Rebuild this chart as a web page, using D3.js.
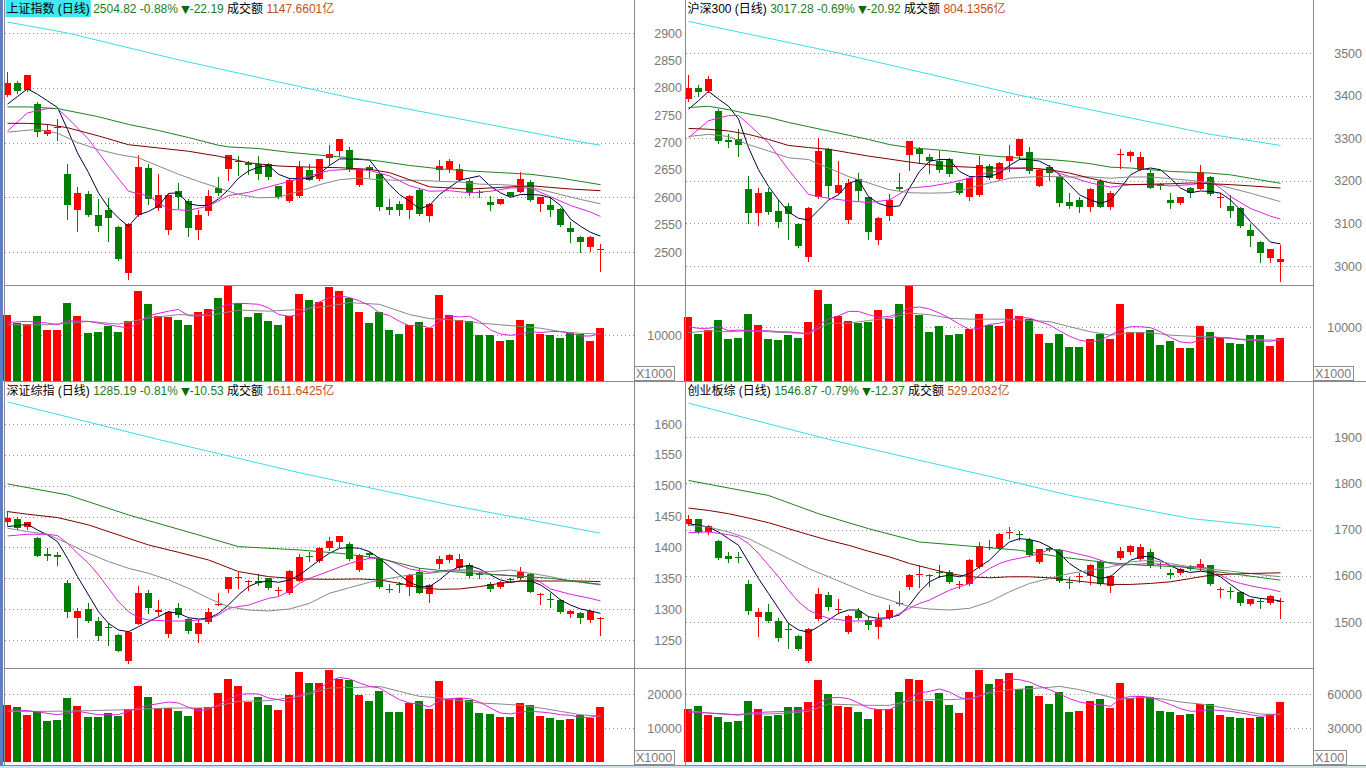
<!DOCTYPE html>
<html>
<head>
<meta charset="utf-8">
<script src="https://d3js.org/d3.v7.min.js"></script>
<title>四大指数 日线</title>
<style type="text/css">
	body { margin: 0; background: #fff; }
	svg { display: block; }
	text { font-family: "Liberation Sans", "Noto Sans CJK SC", sans-serif; }
</style>
</head>
<body>
<div id="chart"></div>
<script>

// ---------- 上证指数 ----------
var shHeader = ["上证指数 (日线)", "2504.82 -0.88%", "▼", "-22.19", "成交额", "1147.6601亿"];
var shOHLC = [[2787,2828,2785,2808],[2808,2812,2790,2794],[2796,2824,2794,2823],[2770,2774,2712,2720],[2715,2733,2714,2723],
	[2726,2743,2704,2728],[2643,2661,2561,2585],[2576,2618,2538,2608],[2606,2611,2565,2568],[2568,2597,2538,2547],
	[2576,2599,2520,2563],[2546,2547,2486,2488],[2462,2553,2451,2551],[2567,2677,2566,2656],[2654,2660,2587,2596],
	[2581,2642,2577,2605],[2541,2606,2533,2605],[2612,2626,2581,2600],[2594,2596,2530,2544],[2541,2577,2524,2568],
	[2574,2614,2568,2603],[2617,2637,2605,2607],[2652,2678,2631,2677],[2667,2675,2641,2665],[2663,2666,2642,2659],
	[2660,2675,2634,2643],[2661,2663,2634,2637],[2620,2621,2599,2600],[2593,2635,2592,2632],[2602,2667,2600,2656],
	[2649,2660,2631,2632],[2634,2670,2632,2669],[2672,2696,2658,2679],[2684,2707,2675,2706],[2686,2692,2648,2651],
	[2622,2652,2621,2651],[2656,2659,2637,2649],[2642,2645,2577,2582],[2582,2596,2570,2577],[2587,2594,2567,2576],
	[2576,2604,2563,2603],[2614,2617,2568,2570],[2565,2590,2556,2588],[2649,2668,2632,2657],[2652,2669,2646,2667],
	[2631,2661,2630,2652],[2629,2634,2605,2607],[2610,2614,2601,2609],[2591,2602,2577,2585],[2588,2597,2587,2596],
	[2609,2610,2602,2603],[2610,2646,2609,2634],[2628,2631,2593,2595],[2588,2601,2574,2600],[2585,2601,2565,2577],
	[2579,2581,2548,2550],[2544,2555,2518,2537],[2527,2529,2500,2518],[2509,2529,2501,2527],[2503,2515,2465,2505]];
var shVol = [14400,12600,12400,14200,11100,11100,16900,14200,10500,10700,11900,10700,13100,19600,16700,14200,13900,13200,12200,15100,
	15600,18000,20700,17000,13900,14700,13000,12200,14200,18900,17600,17100,20400,19600,18100,15000,12700,15000,11000,10200,
	12100,12900,11500,18700,14400,13300,13000,9900,10000,8700,8900,13300,12400,10200,10000,9400,10400,10200,8700,11600];
var shMA5 = [2770,2784,2798,2788,2776,2764,2724,2681,2645,2608,2581,2562,2547,2568,2574,2584,2607,2608,2588,2585,
	2585,2597,2614,2635,2648,2655,2658,2642,2634,2634,2634,2643,2658,2670,2670,2669,2668,2645,2623,2605,
	2593,2579,2585,2605,2618,2631,2635,2639,2620,2608,2600,2605,2605,2604,2599,2585,2560,2547,2536,2529];
var shMA10 = [[0,2721],[2,2754],[4,2762],[5,2762],[6,2745],[8,2706],[10,2657],[12,2611],[14,2602],[16,2578],[18,2576],[20,2584],
	[22,2603],[24,2609],[26,2619],[28,2629],[30,2639],[32,2649],[34,2651],[36,2649],[38,2639],[40,2621],[42,2611],[44,2612],
	[46,2608],[48,2611],[50,2617],[52,2617],[54,2601],[56,2585],[58,2573],[59,2565]];
var shMA20 = [[0,2719],[3,2724],[5,2717],[7,2700],[9,2687],[11,2678],[13,2672],[15,2657],[17,2642],[19,2629],[21,2617],[23,2605],
	[25,2599],[27,2600],[29,2611],[31,2623],[33,2632],[35,2635],[37,2632],[39,2631],[41,2631],[43,2629],[45,2628],[47,2624],
	[49,2623],[51,2621],[53,2614],[55,2605],[57,2596],[59,2588]];
var shMA30 = [[0,2735],[2,2735],[4,2733],[6,2727],[9,2712],[12,2696],[15,2690],[18,2684],[21,2675],[24,2663],[27,2657],[30,2655],
	[33,2654],[36,2651],[38,2645],[40,2632],[42,2619],[44,2617],[46,2615],[48,2617],[50,2619],[52,2621],[54,2618],[56,2615],[59,2612]];
var shMA60 = [[0,2765],[2,2765],[5,2762],[9,2747],[12,2733],[15,2722],[18,2709],[21,2695],[22,2692],[25,2689],[28,2682],[31,2677],
	[34,2672],[37,2666],[40,2658],[43,2652],[46,2648],[49,2645],[52,2642],[55,2635],[59,2623]];
var shMA250 = [[0,2920],[6,2900],[17,2851],[35,2778],[57,2701],[59,2695]];
var shVolMA5 = [[0,12740],[2,12960],[4,12590],[5,12220],[6,13110],[8,12960],[10,12220],[11,11850],[12,11480],[13,12590],[14,14220],
	[16,15180],[17,15560],[18,14220],[19,14070],[20,14810],[21,15930],[22,16670],[23,16890],[24,16810],[25,16670],[26,15930],
	[27,14440],[28,14070],[29,14440],[30,15930],[31,17190],[32,18150],[33,18520],[34,18150],[35,17410],[36,16440],[37,14810],
	[38,14220],[39,12960],[40,12000],[41,12220],[42,11480],[43,12960],[44,14070],[45,13930],[46,14070],[47,12960],[48,11110],
	[49,10220],[50,9930],[51,10220],[52,10740],[53,10520],[54,10740],[55,10740],[56,10370],[57,9780],[58,9780],[59,10370]];
var shVolMA10 = [[0,12220],[4,12220],[8,12960],[11,12370],[14,13700],[17,14440],[20,14220],[23,15410],[26,15180],[29,15560],
	[32,16300],[34,17040],[37,16670],[40,14440],[42,13560],[44,13330],[47,12590],[49,12220],[51,11850],[53,11480],[55,10740],
	[57,10370],[59,10220]];
var shPriceTicks = [2500,2550,2600,2650,2700,2750,2800,2850,2900];
var shPriceGrid = [2500,2600,2700,2800,2900];
var shVolTicks = [10000];

// ---------- 沪深300 ----------
var hsHeader = ["沪深300 (日线)", "3017.28 -0.69%", "▼", "-20.92", "成交额", "804.1356亿"];
var hsOHLC = [[3391,3449,3388,3418],[3418,3425,3398,3408],[3410,3446,3408,3440],[3364,3368,3289,3293],[3295,3309,3280,3292],
	[3297,3321,3258,3284],[3180,3212,3100,3125],[3125,3184,3097,3172],[3173,3183,3122,3127],[3129,3155,3092,3104],
	[3142,3149,3064,3121],[3098,3100,3044,3047],[3021,3139,3011,3137],[3161,3300,3160,3271],[3274,3278,3163,3187],
	[3172,3247,3171,3191],[3109,3204,3101,3195],[3205,3218,3155,3175],[3161,3163,3064,3080],[3062,3114,3052,3112],
	[3117,3168,3109,3155],[3185,3218,3179,3180],[3260,3294,3226,3293],[3274,3280,3242,3264],[3257,3263,3218,3246],
	[3246,3270,3220,3225],[3252,3254,3212,3216],[3195,3198,3169,3171],[3163,3210,3155,3206],[3167,3258,3164,3238],
	[3234,3240,3205,3206],[3204,3244,3202,3242],[3247,3283,3224,3259],[3258,3299,3252,3297],[3268,3280,3218,3222],
	[3188,3228,3187,3226],[3232,3236,3201,3218],[3210,3214,3141,3147],[3150,3171,3135,3142],[3155,3161,3127,3139],
	[3139,3182,3130,3180],[3200,3204,3138,3139],[3139,3175,3134,3172],[3260,3275,3230,3262],[3258,3269,3246,3267],
	[3226,3268,3225,3255],[3218,3226,3183,3184],[3193,3196,3181,3187],[3154,3171,3137,3147],[3149,3163,3146,3161],
	[3183,3185,3163,3171],[3181,3236,3180,3220],[3209,3212,3167,3168],[3161,3171,3138,3163],[3141,3167,3114,3130],
	[3137,3139,3092,3094],[3084,3098,3047,3070],[3056,3058,3009,3030],[3019,3040,3009,3039],[3009,3050,2965,3017]];
var hsVol = [11800,8700,9400,11300,7700,7900,12500,10400,7700,7600,8500,8000,10900,16800,14200,12000,11100,10700,10900,13100,
	11500,14300,17600,12300,9100,10100,8500,8700,9600,12500,10400,10100,13400,12100,11500,8700,7000,8700,6300,6300,
	7700,8700,7700,14300,9100,9100,9400,6600,7400,6100,6100,10200,9100,7900,7000,6900,8500,8500,6500,8000];
var hsMA5 = [3368,3388,3410,3392,3375,3345,3278,3226,3187,3155,3127,3112,3108,3131,3155,3167,3194,3202,3163,3147,
	3139,3141,3183,3222,3246,3250,3250,3222,3210,3210,3210,3218,3236,3250,3250,3246,3234,3214,3191,3167,
	3155,3147,3155,3183,3214,3226,3230,3226,3206,3183,3172,3176,3175,3171,3155,3131,3104,3080,3056,3052];
var hsMA10 = [[0,3301],[2,3341],[4,3353],[5,3353],[6,3333],[8,3289],[10,3226],[12,3168],[14,3159],[16,3153],[18,3149],[20,3155],
	[22,3183],[24,3187],[26,3195],[28,3206],[30,3220],[32,3228],[34,3230],[36,3225],[38,3210],[40,3195],[42,3185],[44,3191],
	[46,3191],[48,3188],[50,3191],[52,3198],[53,3183],[54,3163],[56,3135],[58,3117],[59,3110]];
var hsMA20 = [[0,3304],[2,3309],[4,3304],[6,3285],[8,3270],[10,3254],[12,3250],[14,3230],[16,3210],[18,3195],[20,3179],[22,3172],
	[24,3171],[26,3172],[28,3183],[30,3195],[32,3206],[34,3209],[36,3210],[38,3209],[40,3209],[42,3206],[44,3209],[46,3209],
	[48,3205],[50,3201],[52,3195],[54,3183],[56,3171],[59,3151]];
var hsMA30 = [[0,3323],[2,3321],[4,3317],[6,3309],[8,3297],[10,3283],[12,3278],[14,3274],[16,3266],[18,3258],[20,3251],[22,3244],
	[24,3238],[26,3234],[28,3232],[30,3230],[32,3230],[34,3230],[36,3226],[38,3218],[40,3206],[42,3195],[44,3191],[46,3192],
	[48,3193],[50,3195],[52,3193],[54,3191],[56,3188],[59,3183]];
var hsMA60 = [[0,3372],[2,3375],[4,3367],[6,3357],[8,3349],[10,3337],[12,3327],[14,3317],[16,3307],[18,3297],[20,3285],[22,3278],
	[24,3274],[26,3270],[28,3264],[30,3259],[32,3255],[34,3252],[36,3250],[38,3246],[40,3240],[42,3232],[44,3230],[46,3226],
	[48,3222],[50,3220],[52,3218],[54,3214],[56,3206],[59,3194]];
var hsMA250 = [[0,3574],[15,3500],[33,3401],[52,3309],[59,3283]];
var hsVolMA5 = [[0,10060],[1,9750],[2,9750],[3,10060],[4,9310],[5,9430],[6,9310],[7,9310],[8,9310],[9,9120],[10,9120],[11,8930],
	[12,8680],[13,10380],[14,11450],[15,12080],[16,12890],[17,12890],[18,12270],[19,11830],[20,11950],[21,12580],[22,13520],
	[23,13710],[24,13330],[25,12580],[26,11640],[27,10500],[28,9560],[29,9750],[30,10500],[31,10690],[32,11200],[33,11830],
	[34,11640],[35,11010],[36,10380],[37,9310],[38,8300],[39,7550],[40,7230],[41,7550],[42,8490],[43,9560],[44,10060],
	[45,10060],[46,9880],[47,9120],[48,8050],[49,7230],[50,7040],[51,7550],[52,8180],[53,8050],[54,7990],[55,7670],[56,7550],
	[57,7420],[58,7360],[59,7670]];
var hsVolMA10 = [[0,8930],[2,9310],[4,9120],[6,9310],[8,9120],[10,8930],[12,8810],[14,10690],[16,10690],[18,11200],[20,11640],
	[22,12580],[24,12270],[26,11640],[28,11450],[30,11450],[32,11450],[34,11200],[36,11010],[38,10060],[40,9120],[42,8490],
	[44,8930],[46,8930],[48,8490],[50,8300],[52,8180],[54,7860],[56,7670],[59,7550]];
var hsPriceTicks = [3000,3100,3200,3300,3400,3500];
var hsPriceGrid = [3000,3100,3200,3300,3400,3500];
var hsVolTicks = [10000];

// ---------- 深证综指 ----------
var szHeader = ["深证综指 (日线)", "1285.19 -0.81%", "▼", "-10.53", "成交额", "1611.6425亿"];
var szOHLC = [[1440.8,1459.2,1436.5,1447.3],[1446.2,1449.4,1430.0,1431.1],[1432.7,1441.9,1429.4,1440.8],[1415.9,1417.5,1386.2,1386.7],
	[1388.9,1398.6,1379.7,1386.7],[1387.8,1393.2,1371.6,1384.0],[1341.9,1347.3,1287.8,1295.9],[1286.2,1302.4,1255.4,1297.0],
	[1300.3,1309.4,1279.7,1281.3],[1280.8,1287.8,1250.0,1257.0],[1270.5,1278.1,1241.9,1268.9],[1258.1,1259.2,1232.1,1232.7],
	[1216.5,1264.6,1213.2,1263.5],[1275.9,1338.1,1275.5,1325.7],[1325.7,1331.1,1294.3,1301.3],[1294.8,1314.8,1290.5,1298.6],
	[1259.7,1297.0,1255.4,1294.8],[1301.3,1310.5,1287.8,1290.5],[1283.5,1285.1,1260.8,1264.6],[1259.2,1284.0,1247.3,1277.0],
	[1278.6,1301.3,1277.0,1295.9],[1306.7,1325.7,1306.5,1307.8],[1332.1,1352.7,1328.3,1351.6],[1350.5,1360.8,1333.8,1351.6],
	[1345.6,1347.3,1331.1,1346.2],[1345.6,1357.0,1339.2,1341.9],[1349.9,1351.1,1332.7,1334.8],[1329.4,1336.5,1322.9,1330.5],
	[1325.7,1363.0,1324.0,1361.9],[1345.6,1390.0,1345.4,1385.1],[1386.2,1393.2,1378.1,1384.0],[1378.1,1400.8,1377.0,1399.7],
	[1398.6,1417.5,1395.4,1410.5],[1409.4,1419.2,1401.3,1418.1],[1405.6,1408.4,1379.2,1380.8],[1363.5,1388.9,1362.4,1387.8],
	[1391.1,1393.2,1385.1,1387.8],[1383.5,1385.1,1333.8,1336.5],[1332.7,1340.2,1327.3,1331.1],[1340.2,1344.6,1328.3,1339.2],
	[1336.5,1356.5,1322.9,1355.4],[1360.8,1366.2,1325.7,1326.7],[1324.0,1340.2,1312.1,1339.2],[1373.2,1386.7,1366.2,1381.3],
	[1379.7,1388.9,1377.0,1387.3],[1366.2,1388.9,1363.5,1381.3],[1371.6,1374.3,1352.7,1353.8],[1356.5,1360.8,1350.0,1355.4],
	[1340.8,1343.5,1330.0,1332.7],[1336.5,1345.6,1334.8,1343.5],[1348.3,1351.1,1344.6,1347.3],[1349.9,1368.9,1348.9,1360.8],
	[1356.5,1358.1,1327.3,1328.3],[1323.5,1325.7,1307.8,1324.6],[1316.5,1325.7,1304.0,1314.8],[1314.8,1315.9,1293.2,1295.9],
	[1292.1,1298.6,1287.8,1297.5],[1293.2,1294.8,1277.0,1286.2],[1282.4,1298.1,1279.7,1297.0],[1284.0,1287.8,1258.1,1285.1]];
var szVol = [16700,16300,13900,14900,12200,12500,18800,16600,13300,13100,14400,13400,15700,22500,19200,15800,15800,15100,13400,15900,
	16200,20400,24500,22400,17700,19200,16900,15400,19800,26600,23200,23200,27200,24500,24200,19800,18000,21000,14800,14800,
	17400,18000,15700,23900,18500,18800,18100,14400,14100,13300,13300,17400,16700,13600,12900,12400,12700,13700,12900,16300];
var szMA5 = [1433.8,1435.4,1437.5,1428.3,1420.2,1409.4,1382.4,1352.7,1323.0,1295.9,1277.0,1266.2,1263.5,1271.6,1279.7,1287.8,1295.9,1293.2,1286.2,1284.0,
	1285.1,1293.2,1306.7,1323.0,1336.5,1343.5,1345.6,1343.5,1347.3,1355.4,1367.3,1379.7,1390.5,1398.6,1399.7,1398.6,1393.2,1382.4,1368.9,1355.4,
	1343.5,1336.5,1336.5,1347.3,1360.8,1368.9,1370.5,1365.1,1355.4,1347.3,1343.5,1345.6,1345.6,1339.2,1328.3,1314.8,1306.7,1300.3,1297.0,1293.2];
var szMA10 = [[0,1418.6],[2,1421.3],[4,1421.3],[5,1419.2],[6,1406.7],[7,1390.5],[8,1374.3],[9,1355.4],[10,1333.8],[11,1312.1],
	[12,1295.9],[13,1286.2],[14,1282.4],[16,1280.8],[18,1280.8],[20,1284.0],[21,1290.5],[22,1301.3],[24,1306.7],[26,1317.5],
	[27,1320.2],[28,1329.4],[29,1341.9],[30,1349.9],[32,1361.9],[34,1374.3],[36,1382.4],[37,1382.4],[38,1378.1],[40,1365.1],
	[42,1359.7],[44,1363.5],[46,1363.5],[48,1356.5],[50,1354.3],[52,1352.7],[53,1343.5],[54,1332.7],[56,1324.0],[58,1317.5],[59,1313.2]];
var szMA20 = [[0,1431.1],[2,1425.6],[4,1421.3],[6,1406.7],[8,1390.5],[10,1377.0],[12,1366.2],[14,1358.1],[16,1347.3],[18,1333.8],
	[20,1317.5],[22,1304.0],[24,1298.6],[26,1297.0],[28,1300.3],[30,1309.4],[32,1325.7],[34,1334.8],[36,1343.5],[38,1349.9],
	[40,1355.4],[42,1358.1],[44,1361.9],[46,1361.9],[48,1360.8],[50,1363.5],[52,1358.1],[54,1352.7],[56,1345.6],[59,1339.2]];
var szMA30 = [[0,1458.1],[2,1453.8],[5,1448.4],[8,1436.5],[11,1420.2],[14,1404.0],[17,1392.1],[20,1379.7],[23,1360.8],[26,1352.7],
	[29,1348.9],[32,1348.3],[35,1348.9],[37,1347.3],[39,1341.9],[41,1334.8],[43,1332.1],[45,1332.7],[47,1336.5],[49,1341.9],
	[51,1345.6],[53,1345.6],[55,1345.6],[57,1345.6],[59,1344.6]];
var szMA60 = [[0,1502.9],[6,1485.1],[12,1452.7],[19,1420.2],[23,1401.3],[29,1395.9],[33,1390.5],[37,1382.4],[41,1366.2],[45,1359.7],
	[49,1355.4],[54,1350.0],[59,1340.2]];
var szMA250 = [[0,1635.7],[15,1574.9],[29,1521],[44,1469],[59,1423]];
var szVolMA5 = [[0,15390],[2,15100],[5,13920],[7,14900],[9,13920],[11,13920],[12,14900],[13,15880],[14,16670],[16,17650],[17,17350],
	[18,16080],[19,15100],[20,15390],[21,16860],[22,18330],[23,19800],[24,20100],[25,20000],[26,18820],[27,18330],[28,17650],
	[29,19800],[30,20290],[31,21570],[32,23730],[33,24900],[34,24410],[35,23240],[36,22250],[37,21760],[38,20000],[39,18330],
	[40,17350],[41,17060],[42,16180],[43,18040],[44,18630],[45,18820],[46,18630],[47,17650],[48,15880],[49,14410],[50,14120],
	[51,14710],[52,14900],[53,14710],[54,14410],[55,13920],[56,13730],[57,13140],[58,13140],[59,13920]];
var szVolMA10 = [[0,14900],[4,14900],[8,15100],[12,15390],[16,15880],[20,15880],[23,17840],[26,18040],[29,19310],[32,21760],
	[35,21960],[37,22250],[39,20780],[41,19310],[43,18820],[45,18040],[47,17350],[49,17060],[51,16670],[53,15880],[55,14900],
	[57,13920],[59,13430]];
var szPriceTicks = [1250,1300,1350,1400,1450,1500,1550,1600];
var szPriceGrid = [1250,1300,1350,1400,1450,1500,1550,1600];
var szVolTicks = [10000,20000];

// ---------- 创业板综 ----------
var cyHeader = ["创业板综 (日线)", "1546.87 -0.79%", "▼", "-12.37", "成交额", "529.2032亿"];
var cyOHLC = [[1712.9,1732.2,1710.7,1723.6],[1722.2,1723.6,1693.5,1695.0],[1695.0,1709.3,1691.4,1707.9],[1674.9,1677.0,1637.6,1639.0],
	[1642.6,1652.0,1630.4,1637.6],[1641.2,1652.0,1630.4,1639.8],[1582.4,1591.0,1517.2,1525.1],[1512.2,1530.1,1471.3,1523.0],
	[1521.5,1538.7,1501.4,1502.9],[1502.9,1510.0,1459.8,1467.0],[1484.9,1497.8,1445.5,1482.8],[1470.6,1472.7,1440.5,1441.9],
	[1417.5,1487.1,1413.3,1484.9],[1506.4,1574.5,1505.0,1560.9],[1558.8,1565.9,1526.5,1533.7],[1526.5,1550.2,1519.3,1528.7],
	[1479.9,1515.8,1476.3,1513.6],[1525.1,1530.1,1507.2,1510.0],[1505.0,1514.3,1485.6,1494.2],[1489.2,1519.3,1465.6,1507.2],
	[1508.6,1537.3,1507.2,1526.5],[1540.8,1568.1,1537.3,1539.4],[1575.2,1603.2,1571.7,1601.8],[1601.1,1623.3,1576.7,1603.2],
	[1600.3,1603.2,1578.8,1601.8],[1608.9,1623.3,1598.2,1607.5],[1608.9,1612.5,1585.3,1586.0],[1580.3,1588.9,1574.5,1581.7],
	[1582.4,1637.6,1580.3,1635.5],[1619.7,1673.4,1617.5,1664.1],[1662.0,1677.0,1659.1,1660.5],[1660.5,1692.8,1659.1,1691.4],
	[1692.8,1705.7,1682.1,1695.0],[1691.4,1696.4,1678.5,1689.9],[1678.5,1682.1,1642.6,1646.2],[1630.4,1659.1,1628.3,1657.7],
	[1661.3,1662.7,1653.4,1655.5],[1655.5,1659.1,1586.0,1588.9],[1587.4,1598.2,1574.5,1586.0],[1598.2,1605.4,1586.0,1599.6],
	[1599.6,1626.9,1581.7,1623.3],[1630.4,1634.0,1580.3,1581.7],[1578.8,1601.8,1565.9,1599.6],[1639.8,1662.7,1636.2,1653.4],
	[1652.0,1666.3,1648.4,1664.8],[1636.2,1669.9,1634.0,1662.0],[1652.0,1657.7,1619.7,1621.8],[1625.4,1630.4,1617.5,1623.3],
	[1606.8,1614.7,1596.0,1601.8],[1605.4,1617.5,1603.9,1616.1],[1621.8,1624.7,1612.5,1614.7],[1617.5,1636.2,1612.5,1626.9],
	[1623.3,1624.7,1580.3,1582.4],[1569.5,1576.7,1555.2,1571.0],[1567.4,1576.7,1553.0,1565.9],[1565.9,1567.4,1537.3,1540.8],
	[1538.7,1550.9,1537.3,1549.4],[1545.9,1551.6,1530.1,1544.4],[1540.8,1558.8,1538.7,1557.3],[1543.0,1551.6,1508.6,1545.9]];
var cyVol = [47100,49700,41800,40000,35600,36500,54100,47100,40900,41800,48800,48800,53200,72600,60300,49700,48800,44400,38200,47100,
	47100,62100,73500,72600,53500,61200,50600,43500,62100,81500,69100,73500,78800,64700,67400,58500,51500,61800,44400,45300,
	54100,55900,47900,70000,56800,58500,57400,45300,44400,41800,42700,50900,51200,41800,40000,39100,39100,39400,42100,53200];
var cyMA5 = [1712.9,1709.3,1705.7,1695.0,1680.6,1666.3,1630.4,1594.6,1562.3,1530.1,1497.8,1483.5,1478.5,1490.7,1505.0,1519.3,1526.5,1526.5,1512.2,1508.6,
	1510.0,1515.8,1537.3,1565.9,1587.4,1598.2,1601.8,1598.2,1605.4,1619.7,1634.0,1655.5,1673.4,1680.6,1678.5,1673.4,1662.7,1648.4,1626.9,1612.5,
	1601.8,1594.6,1598.2,1617.5,1634.0,1641.2,1642.6,1634.0,1621.8,1612.5,1607.5,1610.4,1607.5,1598.2,1581.7,1565.9,1555.2,1551.6,1549.4,1545.9];
var cyMA10 = [[0,1693.5],[2,1695.0],[4,1689.2],[5,1684.2],[6,1669.9],[7,1648.4],[8,1623.3],[9,1598.2],[10,1569.5],[11,1544.4],
	[12,1526.5],[13,1515.8],[14,1508.6],[16,1502.9],[18,1502.9],[20,1508.6],[21,1519.3],[22,1530.1],[23,1540.8],[24,1548.0],
	[25,1558.8],[26,1569.5],[27,1576.7],[28,1583.9],[29,1601.8],[30,1616.1],[31,1626.9],[32,1634.0],[34,1642.6],[35,1648.4],
	[36,1657.0],[37,1657.0],[38,1651.9],[40,1641.2],[42,1626.9],[43,1623.3],[44,1624.7],[46,1626.9],[48,1623.3],[50,1617.5],
	[51,1623.3],[52,1612.5],[53,1601.8],[54,1591.0],[55,1583.9],[56,1578.8],[57,1574.5],[58,1571.0],[59,1565.9]];
var cyMA20 = [[0,1709.3],[2,1705.7],[4,1695.0],[6,1680.6],[8,1659.1],[10,1637.6],[12,1616.1],[14,1598.2],[16,1580.3],[18,1562.3],
	[20,1548.0],[22,1533.7],[24,1528.7],[26,1526.5],[28,1530.1],[30,1544.4],[32,1565.9],[34,1583.9],[36,1594.6],[38,1605.4],
	[40,1612.5],[42,1619.7],[44,1630.4],[46,1634.0],[48,1626.9],[50,1619.7],[52,1614.7],[54,1610.4],[56,1605.4],[59,1598.2]];
var cyMA30 = [[0,1746.6],[2,1741.5],[4,1734.4],[6,1725.1],[8,1715.0],[10,1702.1],[12,1689.2],[14,1677.0],[16,1666.3],[18,1653.4],
	[20,1641.2],[22,1626.9],[24,1616.1],[26,1605.4],[28,1598.2],[30,1596.0],[32,1598.2],[34,1598.2],[36,1596.0],[38,1591.0],
	[40,1586.0],[42,1581.7],[44,1581.7],[46,1583.9],[48,1587.4],[50,1594.6],[52,1601.8],[54,1603.9],[56,1605.4],[59,1606.8]];
var cyMA60 = [[0,1806.1],[8,1773.8],[13,1734.4],[18,1702.1],[23,1673.4],[27,1666.3],[33,1655.5],[37,1641.2],[41,1630.4],[45,1623.3],
	[49,1619.7],[54,1605.4],[59,1591.0]];
var cyMA250 = [[0,1973],[14,1895],[30,1815],[38,1774],[50,1724],[59,1704]];
var cyVolMA5 = [[0,44120],[2,43230],[4,42350],[5,41170],[6,43230],[8,44120],[10,44700],[12,46170],[13,52060],[14,56470],[15,57060],
	[16,55880],[17,52060],[18,47650],[19,46170],[20,46170],[21,50590],[22,56470],[23,60880],[24,62350],[25,64410],[26,61760],
	[27,57060],[28,55000],[29,57940],[30,62350],[31,68230],[32,73230],[33,72640],[34,70580],[35,66760],[36,63820],[37,60000],
	[38,55880],[39,52940],[40,51170],[41,50590],[42,49120],[43,55880],[44,57940],[45,57940],[46,57060],[47,54110],[48,50590],
	[49,47060],[50,44700],[51,45290],[52,46170],[53,45290],[54,44700],[55,43230],[56,41760],[57,40290],[58,41170],[59,43230]];
var cyVolMA10 = [[0,45290],[2,43230],[4,41760],[6,42350],[8,42350],[10,43230],[12,44700],[14,51170],[16,50590],[18,50000],[20,50000],
	[22,54110],[24,55000],[26,55000],[28,55880],[30,60880],[32,63820],[34,64700],[36,65880],[37,66760],[39,63820],[41,59410],
	[43,55000],[45,57060],[47,55880],[49,52940],[51,51170],[53,48230],[55,45290],[57,42350],[59,41760]];
var cyPriceTicks = [1500,1600,1700,1800,1900];
var cyPriceGrid = [1500,1600,1700,1800,1900];
var cyVolTicks = [30000,60000];

// ---------- drawing ----------
var RED = "#ff0000", GREEN = "#008000";
var MA_COLORS = ["#000040", "#dd22dd", "#888888", "#800000", "#208020", "#3cdce4"];

var svg = d3.select("#chart").append("svg")
	.attr("width", 1366)
	.attr("height", 768);

svg.append("rect").attr("width", 1366).attr("height", 768).attr("fill", "#fff");

function drawPanel(p) {
	var g = svg.append("g");
	var x = d3.scaleBand().domain(d3.range(p.ohlc.length)).range(p.band).paddingInner(0.3);
	var cx = function(i) { return Math.round(x(i) + x.bandwidth() / 2) + 0.5; };
	var y = d3.scaleLinear().domain(p.priceDomain).range(p.priceRange);
	var v = d3.scaleLinear().domain(p.volDomain).range(p.volRange);
	var isUp = function(d) { return d[3] >= d[0]; };

	// dotted grid
	g.selectAll("line.pgrid").data(p.priceGrid).enter().append("line")
		.attr("x1", p.left).attr("x2", p.right)
		.attr("y1", function(d) { return Math.round(y(d)) + 0.5; })
		.attr("y2", function(d) { return Math.round(y(d)) + 0.5; })
		.attr("stroke", "#8c8c8c").attr("stroke-dasharray", "1,3");
	g.selectAll("line.vgrid").data(p.volTicks).enter().append("line")
		.attr("x1", p.left).attr("x2", p.right)
		.attr("y1", function(d) { return Math.round(v(d)) + 0.5; })
		.attr("y2", function(d) { return Math.round(v(d)) + 0.5; })
		.attr("stroke", "#8c8c8c").attr("stroke-dasharray", "1,3");

	// axis labels
	g.selectAll("text.plab").data(p.priceTicks).enter().append("text")
		.attr("x", p.labelX).attr("y", function(d) { return y(d); })
		.attr("dy", "0.36em").attr("text-anchor", "end")
		.attr("font-size", 12.5).attr("fill", "#7a7a7a")
		.text(function(d) { return d; });
	g.selectAll("text.vlab").data(p.volTicks).enter().append("text")
		.attr("x", p.labelX).attr("y", function(d) { return v(d); })
		.attr("dy", "0.36em").attr("text-anchor", "end")
		.attr("font-size", 12.5).attr("fill", "#7a7a7a")
		.text(function(d) { return d; });

	// unit box
	g.append("rect").attr("x", p.right + 0.5).attr("y", p.bottom - 14.5)
		.attr("width", p.unitW).attr("height", 14)
		.attr("fill", "#fff").attr("stroke", "#8c8c8c");
	g.append("text").attr("x", p.right + 2).attr("y", p.bottom - 3)
		.attr("font-size", 12.5).attr("fill", "#7a7a7a").text(p.unit);

	// clip to the price area
	svg.append("clipPath").attr("id", "clip" + p.id).append("rect")
		.attr("x", p.left).attr("y", p.top + 1)
		.attr("width", p.right - p.left).attr("height", p.sep - p.top - 1);
	var pg = g.append("g").attr("clip-path", "url(#clip" + p.id + ")");

	// candles
	var c = pg.selectAll("g.candle").data(p.ohlc).enter().append("g");
	c.append("line")
		.attr("x1", function(d, i) { return cx(i); })
		.attr("x2", function(d, i) { return cx(i); })
		.attr("y1", function(d) { return Math.round(y(d[1])); })
		.attr("y2", function(d) { return Math.round(y(d[2])) + 1; })
		.attr("stroke", function(d) { return isUp(d) ? RED : GREEN; });
	c.append("rect")
		.attr("x", function(d, i) { return cx(i) - 3.5; })
		.attr("width", 7)
		.attr("y", function(d) { return Math.round(y(Math.max(d[0], d[3]))); })
		.attr("height", function(d) { return Math.max(1, Math.round(y(Math.min(d[0], d[3]))) - Math.round(y(Math.max(d[0], d[3])))); })
		.attr("fill", function(d) { return isUp(d) ? RED : GREEN; });

	// moving averages
	var line = d3.line().x(function(d) { return cx(d[0]); }).y(function(d) { return y(d[1]); });
	var ma5 = p.ma5.map(function(val, i) { return [i, val]; });
	[ma5, p.ma10, p.ma20, p.ma30, p.ma60, p.ma250].forEach(function(m, k) {
		pg.append("path").attr("d", line(m)).attr("fill", "none")
			.attr("stroke", MA_COLORS[k]).attr("stroke-width", 1);
	});

	// volume
	g.selectAll("rect.vol").data(p.vol).enter().append("rect")
		.attr("x", function(d, i) { return cx(i) - 4.5; })
		.attr("width", 8)
		.attr("y", function(d) { return Math.round(v(d)); })
		.attr("height", function(d) { return Math.round(v(0)) - Math.round(v(d)); })
		.attr("fill", function(d, i) { return isUp(p.ohlc[i]) ? RED : GREEN; });
	var vline = d3.line().x(function(d) { return cx(d[0]); }).y(function(d) { return v(d[1]); });
	g.append("path").attr("d", vline(p.volMA10)).attr("fill", "none").attr("stroke", "#888888");
	g.append("path").attr("d", vline(p.volMA5)).attr("fill", "none").attr("stroke", "#dd22dd");

	// header
	var hl = g.append("rect");
	var t = g.append("text").attr("x", p.left + 1.5).attr("y", p.top + 13)
		.attr("font-size", 12).style("white-space", "pre");
	var h = p.header;
	t.append("tspan").attr("fill", "#000").text(h[0]);
	t.append("tspan").attr("fill", "#1e7b1e").text(" " + h[1] + " ");
	t.append("tspan").attr("fill", "#0a6a0a").attr("font-family", "DejaVu Sans").attr("font-size", 11).text(h[2]);
	t.append("tspan").attr("fill", "#1e7b1e").text(h[3] + " ");
	t.append("tspan").attr("fill", "#000").text(h[4] + " ");
	t.append("tspan").attr("fill", "#c0501e").text(h[5]);
	if (p.highlight) {
		var w = t.node().getSubStringLength(0, h[0].length);
		hl.attr("x", p.left + 0.5).attr("y", p.top).attr("width", w + 2).attr("height", 17)
			.attr("fill", "#40e8f0");
	}
}

drawPanel({ id: "sh", header: shHeader, highlight: true, ohlc: shOHLC, vol: shVol,
	ma5: shMA5, ma10: shMA10, ma20: shMA20, ma30: shMA30, ma60: shMA60, ma250: shMA250,
	volMA5: shVolMA5, volMA10: shVolMA10, priceTicks: shPriceTicks, priceGrid: shPriceGrid, volTicks: shVolTicks,
	left: 5, right: 634, top: 0, sep: 285, bottom: 381, band: [3.6, 603.6], labelX: 682,
	priceDomain: [2500, 2900], priceRange: [252, 33], volDomain: [0, 10000], volRange: [381, 335],
	unit: "X1000", unitW: 40 });
drawPanel({ id: "hs", header: hsHeader, highlight: false, ohlc: hsOHLC, vol: hsVol,
	ma5: hsMA5, ma10: hsMA10, ma20: hsMA20, ma30: hsMA30, ma60: hsMA60, ma250: hsMA250,
	volMA5: hsVolMA5, volMA10: hsVolMA10, priceTicks: hsPriceTicks, priceGrid: hsPriceGrid, volTicks: hsVolTicks,
	left: 686, right: 1313, top: 0, sep: 285, bottom: 381, band: [684, 1284], labelX: 1362,
	priceDomain: [3000, 3500], priceRange: [266, 53], volDomain: [0, 10000], volRange: [381, 327],
	unit: "X1000", unitW: 40 });
drawPanel({ id: "sz", header: szHeader, highlight: false, ohlc: szOHLC, vol: szVol,
	ma5: szMA5, ma10: szMA10, ma20: szMA20, ma30: szMA30, ma60: szMA60, ma250: szMA250,
	volMA5: szVolMA5, volMA10: szVolMA10, priceTicks: szPriceTicks, priceGrid: szPriceGrid, volTicks: szVolTicks,
	left: 5, right: 634, top: 382, sep: 668, bottom: 765, band: [3.6, 603.6], labelX: 682,
	priceDomain: [1250, 1600], priceRange: [640, 424], volDomain: [0, 20000], volRange: [762, 694],
	unit: "X1000", unitW: 40 });
drawPanel({ id: "cy", header: cyHeader, highlight: false, ohlc: cyOHLC, vol: cyVol,
	ma5: cyMA5, ma10: cyMA10, ma20: cyMA20, ma30: cyMA30, ma60: cyMA60, ma250: cyMA250,
	volMA5: cyVolMA5, volMA10: cyVolMA10, priceTicks: cyPriceTicks, priceGrid: cyPriceGrid, volTicks: cyVolTicks,
	left: 686, right: 1313, top: 382, sep: 668, bottom: 765, band: [684, 1284], labelX: 1362,
	priceDomain: [1500, 1900], priceRange: [622.3, 437], volDomain: [0, 60000], volRange: [762, 694],
	unit: "X100", unitW: 33 });

// frame lines
var frame = svg.append("g").attr("stroke", "#8a8a8a").attr("stroke-width", 1);
[4.5, 634.5, 685.5, 1313.5].forEach(function(xx) {
	frame.append("line").attr("x1", xx).attr("x2", xx).attr("y1", 0).attr("y2", 766);
});
[[285.5, 4, 1313], [668.5, 4, 1313], [381.5, 4, 1366], [765.5, 0, 1366]].forEach(function(r) {
	frame.append("line").attr("x1", r[1]).attr("x2", r[2]).attr("y1", r[0]).attr("y2", r[0]);
});
svg.append("rect").attr("x", 0).attr("y", 0).attr("width", 3).attr("height", 766).attr("fill", "#5b7fbf");
svg.append("rect").attr("x", 0).attr("y", 766).attr("width", 1366).attr("height", 2).attr("fill", "#cfe0f2");

</script>
</body>
</html>
